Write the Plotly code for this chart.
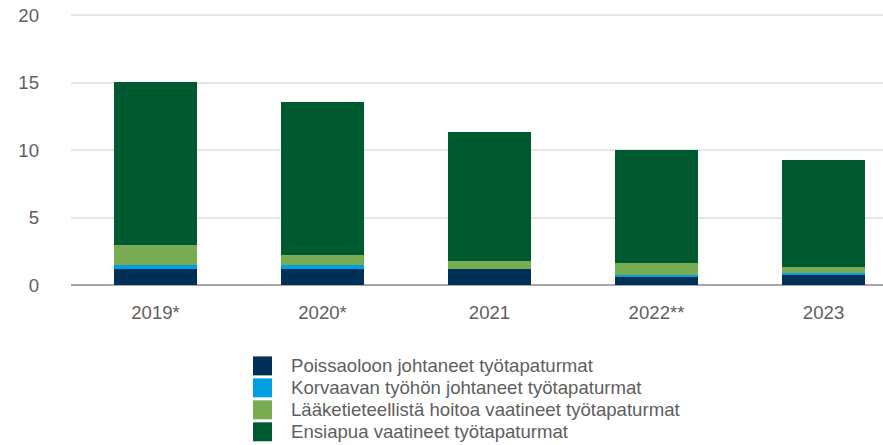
import plotly.graph_objects as go

years = ["2019*", "2020*", "2021", "2022**", "2023"]
poissaolo = [1.19, 1.19, 1.19, 0.59, 0.74]
korvaava = [0.30, 0.30, 0.0, 0.15, 0.15]
laake = [1.48, 0.74, 0.59, 0.89, 0.44]
ensiapu = [12.07, 11.33, 9.55, 8.37, 7.93]

series_names = [
    "Poissaoloon johtaneet työtapaturmat",
    "Korvaavan työhön johtaneet työtapaturmat",
    "Lääketieteellistä hoitoa vaatineet työtapaturmat",
    "Ensiapua vaatineet työtapaturmat",
]
series_values = [poissaolo, korvaava, laake, ensiapu]
colors = ["#003057", "#009FE3", "#78AC52", "#005A30"]
y_ticks = [0, 5, 10, 15, 20]

FONT = "Liberation Sans, Arial, sans-serif"
FSIZE = 18.6
TEXT_COLOR = "#5E5E5E"

Y_TOP = 20.4            # a little headroom so the 20 gridline is drawn
PX_PER_UNIT = 13.5      # reference: 0 at y 285, 20 at y 15
W, H = 883, 445
plot_top = 285 - Y_TOP * PX_PER_UNIT
ML, MR, MT, MB = 71, 0, plot_top, H - 285
PW, PH = W - ML - MR, H - MT - MB


def px_x(x):
    return (x - ML) / PW


def px_y(y):
    return (H - MB - y) / PH


fig = go.Figure()
for name, vals, col in zip(series_names, series_values, colors):
    fig.add_trace(go.Bar(x=years, y=vals, name=name, showlegend=False,
                         marker=dict(color=col, line=dict(width=0))))

# custom legend (layout only), positions in pixels
shapes = []
annotations = []
row_centers = [366, 388, 410, 432]
for name, col, yc in zip(series_names, colors, row_centers):
    shapes.append(dict(type="rect", xref="paper", yref="paper",
                       x0=px_x(253), x1=px_x(272), y0=px_y(yc + 9.5), y1=px_y(yc - 9.5),
                       fillcolor=col, line=dict(width=0)))
    annotations.append(dict(xref="paper", yref="paper", x=px_x(289), y=px_y(yc),
                            xanchor="left", yanchor="middle", text=name, showarrow=False,
                            font=dict(family=FONT, size=FSIZE, color=TEXT_COLOR)))

fig.update_layout(
    barmode="stack",
    bargap=0.5,
    width=W,
    height=H,
    margin=dict(l=ML, r=MR, t=MT, b=MB, autoexpand=False),
    plot_bgcolor="white",
    paper_bgcolor="white",
    font=dict(family=FONT, size=FSIZE, color=TEXT_COLOR),
    showlegend=False,
    shapes=shapes,
    annotations=annotations,
    xaxis=dict(
        type="category",
        range=[-0.506, 4.356],
        showgrid=False,
        showline=False,
        ticks="",
        ticklabelstandoff=14,
        tickfont=dict(family=FONT, size=FSIZE, color=TEXT_COLOR),
    ),
    yaxis=dict(
        range=[0, Y_TOP],
        tickvals=y_ticks,
        showgrid=True,
        gridcolor="#E6E6E6",
        gridwidth=2,
        zeroline=True,
        zerolinecolor="#A6A6A6",
        zerolinewidth=2,
        ticks="",
        ticklabelstandoff=31,
        ticklabeloverflow="allow",
        tickfont=dict(family=FONT, size=FSIZE, color=TEXT_COLOR),
    ),
)

fig.write_html(
    "out.html",
    config={"displayModeBar": False},
    post_script="document.body.style.margin='0';document.body.style.overflow='hidden';",
)
